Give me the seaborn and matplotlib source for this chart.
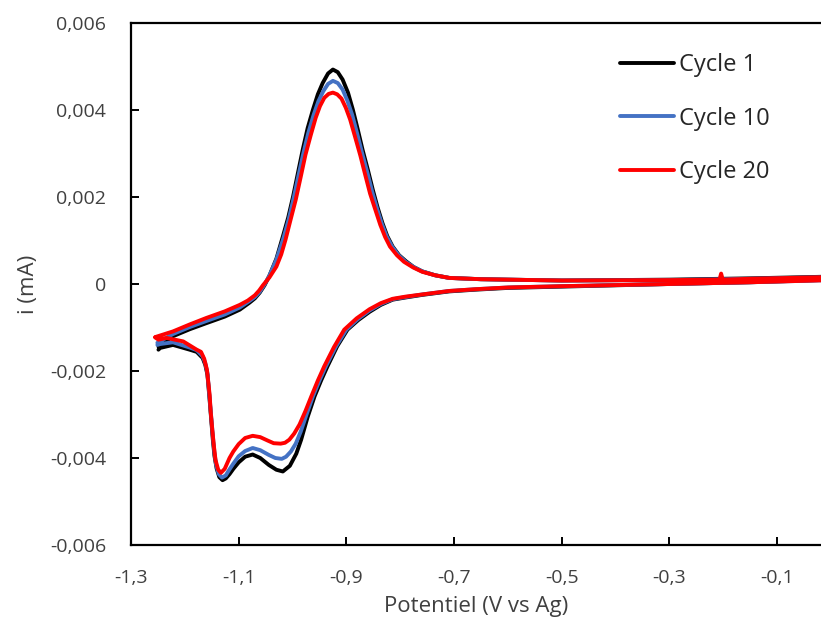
import pandas as pd
import seaborn as sns
import matplotlib.pyplot as plt

# Cycle 1 (black): anodic sweep then cathodic sweep back
cycle1_x = [-1.249, -1.222, -1.191, -1.160, -1.126, -1.098, -1.080, -1.070,
            -1.061, -1.052, -1.043, -1.030, -1.018, -1.008, -0.999, -0.990,
            -0.981, -0.972, -0.962, -0.953, -0.944, -0.934, -0.925, -0.916,
            -0.907, -0.897, -0.888, -0.879, -0.870, -0.860, -0.851, -0.842,
            -0.833, -0.824, -0.814, -0.802, -0.789, -0.775, -0.759, -0.735,
            -0.709, -0.650, -0.600, -0.500, -0.300, -0.150, 0.000,
            0.000, -0.150, -0.300, -0.500, -0.600, -0.660, -0.709, -0.759,
            -0.790, -0.814, -0.836, -0.857, -0.878, -0.898, -0.917, -0.935,
            -0.947, -0.959, -0.972, -0.984, -0.993, -1.005, -1.018, -1.030,
            -1.044, -1.060, -1.074, -1.088, -1.100, -1.110, -1.117, -1.124,
            -1.130, -1.136, -1.141, -1.145, -1.148, -1.151, -1.154, -1.158,
            -1.162, -1.167, -1.178, -1.191, -1.222, -1.246, -1.249]
cycle1_i = [-0.00144, -0.00120, -0.00104, -0.00090, -0.00075, -0.00059,
            -0.00043, -0.00033, -0.00020, -0.00003, 0.00019, 0.00058,
            0.00109, 0.00153, 0.00201, 0.00255, 0.00309, 0.00358, 0.00401,
            0.00436, 0.00462, 0.00484, 0.00493, 0.00487, 0.00470, 0.00440,
            0.00401, 0.00356, 0.00309, 0.00262, 0.00217, 0.00176, 0.00140,
            0.00110, 0.00086, 0.00066, 0.00052, 0.00039, 0.00029, 0.00020,
            0.00014, 0.00011, 0.00010, 0.00008, 0.00010, 0.00013, 0.00017,
            0.00010, 0.00004, 0.00000, -0.00006, -0.00009, -0.00013, -0.00017,
            -0.00025, -0.00031, -0.00036, -0.00048, -0.00064, -0.00083,
            -0.00105, -0.00143, -0.00189, -0.00222, -0.00258, -0.00306,
            -0.00358, -0.00390, -0.00418, -0.00431, -0.00427, -0.00416,
            -0.00400, -0.00392, -0.00397, -0.00410, -0.00425, -0.00437,
            -0.00447, -0.00451, -0.00444, -0.00424, -0.00395, -0.00358,
            -0.00312, -0.00266, -0.00209, -0.00186, -0.00170, -0.00156,
            -0.00151, -0.00140, -0.00147, -0.00151]

# Cycle 10 (blue)
cycle10_x = [-1.251, -1.222, -1.191, -1.160, -1.126, -1.098, -1.080, -1.070,
             -1.061, -1.052, -1.043, -1.030, -1.017, -1.007, -0.998, -0.989,
             -0.980, -0.971, -0.961, -0.952, -0.943, -0.934, -0.925, -0.916,
             -0.907, -0.898, -0.889, -0.880, -0.871, -0.861, -0.852, -0.843,
             -0.834, -0.825, -0.815, -0.803, -0.790, -0.775, -0.759, -0.735,
             -0.709, -0.650, -0.600, -0.500, -0.300, -0.150, 0.000,
             0.000, -0.150, -0.300, -0.500, -0.600, -0.660, -0.709, -0.759,
             -0.790, -0.814, -0.836, -0.857, -0.879, -0.900, -0.919, -0.938,
             -0.950, -0.962, -0.974, -0.985, -0.994, -1.003, -1.012, -1.020,
             -1.032, -1.044, -1.060, -1.074, -1.088, -1.100, -1.110, -1.117,
             -1.124, -1.131, -1.137, -1.142, -1.145, -1.148, -1.151, -1.154,
             -1.158, -1.162, -1.167, -1.178, -1.191, -1.222, -1.246, -1.251]
cycle10_i = [-0.00135, -0.00115, -0.00099, -0.00085, -0.00070, -0.00054,
             -0.00039, -0.00030, -0.00018, -0.00001, 0.00019, 0.00056,
             0.00105, 0.00149, 0.00197, 0.00249, 0.00300, 0.00346, 0.00388,
             0.00420, 0.00443, 0.00460, 0.00467, 0.00462, 0.00447, 0.00421,
             0.00388, 0.00346, 0.00302, 0.00256, 0.00212, 0.00173, 0.00138,
             0.00109, 0.00086, 0.00066, 0.00051, 0.00039, 0.00029, 0.00020,
             0.00014, 0.00011, 0.00010, 0.00008, 0.00009, 0.00012, 0.00016,
             0.00009, 0.00004, 0.00000, -0.00005, -0.00008, -0.00012, -0.00016,
             -0.00024, -0.00030, -0.00035, -0.00046, -0.00061, -0.00081,
             -0.00105, -0.00143, -0.00189, -0.00222, -0.00258, -0.00300,
             -0.00340, -0.00367, -0.00385, -0.00397, -0.00402, -0.00400,
             -0.00393, -0.00382, -0.00377, -0.00384, -0.00396, -0.00413,
             -0.00426, -0.00440, -0.00445, -0.00437, -0.00415, -0.00388,
             -0.00350, -0.00306, -0.00262, -0.00205, -0.00182, -0.00166,
             -0.00152, -0.00146, -0.00134, -0.00138, -0.00140]

# Cycle 20 (red), with the small spike near -0,2 V
cycle20_x = [-1.255, -1.222, -1.191, -1.160, -1.126, -1.098, -1.083, -1.070,
             -1.062, -1.055, -1.043, -1.030, -1.021, -1.013, -1.004, -0.994,
             -0.985, -0.976, -0.966, -0.957, -0.949, -0.941, -0.933, -0.925,
             -0.917, -0.909, -0.901, -0.893, -0.884, -0.874, -0.865, -0.856,
             -0.846, -0.837, -0.828, -0.819, -0.806, -0.793, -0.776, -0.759,
             -0.735, -0.709, -0.650, -0.600, -0.500, -0.300, -0.207, -0.204,
             -0.201, -0.150, 0.000,
             0.000, -0.150, -0.300, -0.500, -0.600, -0.660, -0.709, -0.759,
             -0.790, -0.814, -0.836, -0.857, -0.881, -0.904, -0.923, -0.941,
             -0.953, -0.965, -0.976, -0.987, -0.997, -1.006, -1.014, -1.022,
             -1.035, -1.046, -1.060, -1.074, -1.088, -1.100, -1.110, -1.117,
             -1.126, -1.133, -1.138, -1.143, -1.146, -1.149, -1.152, -1.154,
             -1.159, -1.164, -1.170, -1.178, -1.203, -1.234, -1.249, -1.255]
cycle20_i = [-0.00122, -0.00109, -0.00093, -0.00078, -0.00063, -0.00048,
             -0.00038, -0.00026, -0.00015, -0.00003, 0.00015, 0.00040,
             0.00068, 0.00102, 0.00146, 0.00194, 0.00245, 0.00297, 0.00343,
             0.00382, 0.00409, 0.00428, 0.00437, 0.00440, 0.00436, 0.00426,
             0.00405, 0.00378, 0.00339, 0.00295, 0.00251, 0.00208, 0.00170,
             0.00136, 0.00108, 0.00086, 0.00066, 0.00051, 0.00038, 0.00028,
             0.00020, 0.00014, 0.00011, 0.00010, 0.00008, 0.00009, 0.00010,
             0.00024, 0.00010, 0.00012, 0.00016,
             0.00009, 0.00004, 0.00000, -0.00005, -0.00008, -0.00012, -0.00016,
             -0.00024, -0.00029, -0.00034, -0.00044, -0.00058, -0.00079,
             -0.00105, -0.00145, -0.00189, -0.00222, -0.00258, -0.00292,
             -0.00323, -0.00344, -0.00358, -0.00365, -0.00367, -0.00366,
             -0.00360, -0.00352, -0.00349, -0.00354, -0.00368, -0.00385,
             -0.00400, -0.00425, -0.00434, -0.00427, -0.00405, -0.00373,
             -0.00335, -0.00293, -0.00254, -0.00197, -0.00172, -0.00156,
             -0.00151, -0.00132, -0.00124, -0.00128, -0.00123]

cycle_names = ['Cycle 1', 'Cycle 10', 'Cycle 20']
cycle_colors = ['#000000', '#4472C4', '#FF0000']

x_ticks = [-1.3, -1.1, -0.9, -0.7, -0.5, -0.3, -0.1]
x_tick_labels = ['-1,3', '-1,1', '-0,9', '-0,7', '-0,5', '-0,3', '-0,1']
y_ticks = [-0.006, -0.004, -0.002, 0, 0.002, 0.004, 0.006]
y_tick_labels = ['-0,006', '-0,004', '-0,002', '0', '0,002', '0,004', '0,006']


def main():
    frames = []
    for name, xs, ys in zip(cycle_names,
                            [cycle1_x, cycle10_x, cycle20_x],
                            [cycle1_i, cycle10_i, cycle20_i]):
        frames.append(pd.DataFrame({'E': xs, 'i': ys, 'Cycle': name}))
    data = pd.concat(frames, ignore_index=True)

    sns.set_theme(style='ticks')
    plt.rcParams['font.family'] = ['Open Sans', 'DejaVu Sans']

    fig = plt.figure(figsize=(8.21, 6.24), dpi=100)
    ax = fig.add_axes([131 / 821, 1 - 545 / 624, 690 / 821, 522 / 624])

    sns.lineplot(data=data, x='E', y='i', hue='Cycle', hue_order=cycle_names,
                 palette=cycle_colors, sort=False, estimator=None,
                 linewidth=2.8, ax=ax)

    ax.set_xlim(-1.3, -0.0185)
    ax.set_ylim(-0.006, 0.006)
    ax.set_xticks(x_ticks)
    ax.set_xticklabels(x_tick_labels)
    ax.set_yticks(y_ticks)
    ax.set_yticklabels(y_tick_labels)
    ax.tick_params(direction='in', length=6, width=1.4, colors='black',
                   labelsize=14, labelcolor='#404040')
    ax.tick_params(axis='x', pad=17)
    ax.tick_params(axis='y', pad=18)
    for side in ['left', 'bottom', 'top']:
        ax.spines[side].set_color('black')
        ax.spines[side].set_linewidth(1.6)
    ax.spines['right'].set_visible(False)

    ax.set_xlabel('Potentiel (V vs Ag)', fontsize=16, color='#404040',
                  labelpad=7)
    ax.set_ylabel('i (mA)', fontsize=16, color='#404040', labelpad=8)

    ax.legend(loc='upper left', bbox_to_anchor=(620 / 821, 1 - 53 / 624),
              bbox_transform=fig.transFigure, frameon=False, fontsize=17,
              handlelength=2.3, handletextpad=0.2, labelspacing=1.25,
              borderpad=0, borderaxespad=0)

    plt.savefig('out.png', dpi=100)


if __name__ == '__main__':
    main()
